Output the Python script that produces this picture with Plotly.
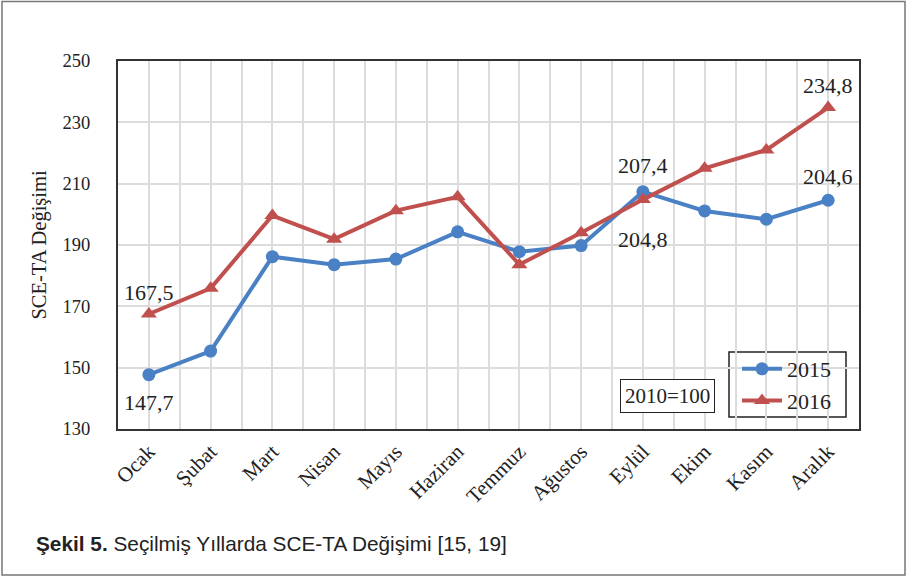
import plotly.graph_objects as go

months = ["Ocak", "Şubat", "Mart", "Nisan", "Mayıs", "Haziran", "Temmuz",
          "Ağustos", "Eylül", "Ekim", "Kasım", "Aralık"]
y2015 = [147.7, 155.4, 186.2, 183.6, 185.4, 194.3, 187.8, 189.8, 207.4, 201.1, 198.4, 204.6]
y2016 = [167.5, 175.9, 199.6, 191.9, 201.2, 205.7, 183.6, 194.0, 204.8, 215.0, 221.0, 234.8]
yticks = [130, 150, 170, 190, 210, 230, 250]

W, H = 909, 582
ml, mr, mt, mb = 118, 50, 61, 153
pw, ph = W - ml - mr, H - mt - mb

def px(xpix):
    return (xpix - ml) / pw

def py(ypix):
    return 1 - (ypix - mt) / ph

idx = list(range(len(months)))
blue = "#4a80c4"
red = "#c0504d"
serif = "Liberation Serif, Times New Roman, serif"
txt = "#222"

fig = go.Figure()
fig.add_trace(go.Scatter(x=idx, y=y2015, name="2015", mode="lines+markers",
                         line=dict(color=blue, width=4),
                         marker=dict(symbol="circle", size=13, color=blue)))
fig.add_trace(go.Scatter(x=idx, y=y2016, name="2016", mode="lines+markers",
                         line=dict(color=red, width=4),
                         marker=dict(symbol="triangle-up", size=14, color=red)))

def fmt(v):
    return f"{v:.1f}".replace(".", ",")

labels = [
    (0, y2016[0], 0, -22),
    (0, y2015[0], 0, 28),
    (8, y2015[8], 0, -26),
    (8, y2016[8], 0, 40),
    (11, y2016[11], 0, -22),
    (11, y2015[11], 0, -24),
]
for i, v, dx, dy in labels:
    fig.add_annotation(x=i, y=v, text=fmt(v), showarrow=False, xshift=dx, yshift=-dy,
                       font=dict(family=serif, size=22, color=txt))

# 2010=100 box
fig.add_annotation(x=px(667), y=py(396), xref="paper", yref="paper", text="2010=100",
                   xanchor="center", yanchor="middle",
                   showarrow=False, font=dict(family=serif, size=21, color=txt),
                   bordercolor=txt, borderwidth=1, borderpad=4, bgcolor="white")

# caption
fig.add_annotation(x=px(34), y=py(543), xref="paper", yref="paper", xanchor="left",
                   yanchor="middle",
                   text="<b>Şekil 5.</b> Seçilmiş Yıllarda SCE-TA Değişimi [15, 19]",
                   showarrow=False,
                   font=dict(family="Liberation Sans, Arial, sans-serif", size=20.8, color=txt))

# outer border
fig.add_shape(type="rect", xref="paper", yref="paper",
              x0=px(2), x1=px(905), y0=py(1.5), y1=py(575),
              line=dict(color="#777", width=1.5), fillcolor="rgba(0,0,0,0)", layer="below")

# legend box
fig.add_shape(type="rect", xref="paper", yref="paper",
              x0=px(729), x1=px(846), y0=py(352), y1=py(417),
              line=dict(color=txt, width=1.5), fillcolor="white", layer="below")

fig.update_layout(
    width=W, height=H,
    margin=dict(l=ml, r=mr, t=mt, b=mb),
    paper_bgcolor="white", plot_bgcolor="white",
    font=dict(family=serif, size=18, color=txt),
    showlegend=True,
    legend=dict(x=px(737), y=py(385), xanchor="left", yanchor="middle",
                borderwidth=0, bgcolor="rgba(0,0,0,0)",
                font=dict(family=serif, size=22, color=txt),
                tracegroupgap=0, itemwidth=40),
    xaxis=dict(range=[-0.5, 11.5], tickmode="array", tickvals=idx, ticktext=months,
               tickangle=-45, showgrid=True, gridcolor="#dcdcdc", gridwidth=1.5,
               tickfont=dict(family=serif, size=21, color=txt),
               showline=True, linecolor="#333", linewidth=2, mirror=True,
               ticks="", zeroline=False,
               minor=dict(dtick=0.5, tick0=0.5, showgrid=True, gridcolor="#dcdcdc", gridwidth=1.5)),
    yaxis=dict(range=[130, 250], tickvals=yticks, showgrid=True, gridcolor="#dcdcdc",
               gridwidth=1.5, tickfont=dict(family=serif, size=18.5, color=txt),
               showline=True, linecolor="#333", linewidth=2, mirror=True,
               ticks="", zeroline=False, ticklabelstandoff=22,
               title=dict(text="SCE-TA Değişimi", font=dict(family=serif, size=20.5, color=txt),
                          standoff=10)),
)

fig.write_html("out.html", config={"displayModeBar": False},
               post_script="document.body.style.margin='0';")
